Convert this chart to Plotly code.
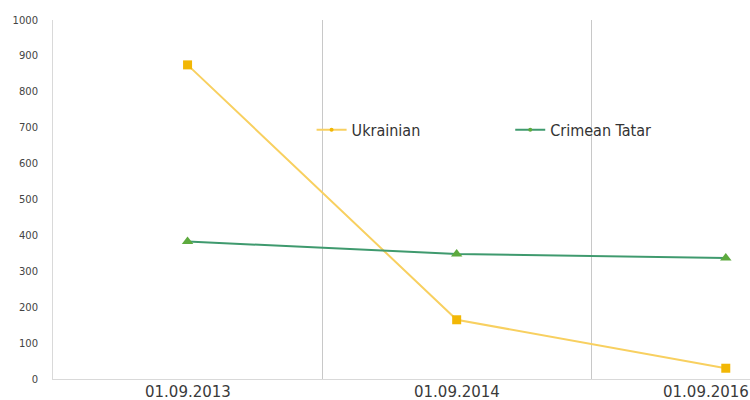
import plotly.graph_objects as go

dates = ["01.09.2013", "01.09.2014", "01.09.2016"]
ukrainian = [875, 165, 30]
crimean_tatar = [383, 348, 337]
y_ticks = list(range(0, 1001, 100))

series = [
    ("Ukrainian", ukrainian, "#F8D060", "square", 9, "#F2B705", "legend"),
    ("Crimean Tatar", crimean_tatar, "#3F9A6E", "triangle-up", 10, "#5DAA3E", "legend2"),
]

fig = go.Figure()
for name, vals, lc, sym, ms, mc, lg in series:
    fig.add_trace(go.Scatter(
        x=dates, y=vals, name=name, mode="lines+markers",
        line=dict(color=lc, width=2),
        marker=dict(symbol=sym, size=ms, color=mc),
        showlegend=False,
    ))
    # legend-only entry with a small marker, as in the reference
    fig.add_trace(go.Scatter(
        x=[None], y=[None], name=name, mode="lines+markers",
        line=dict(color=lc, width=2),
        marker=dict(symbol="circle", size=4, color=mc),
        legend=lg, showlegend=True, hoverinfo="skip",
    ))

# x category labels (last one kept inside the picture, as in the reference)
label_font = dict(family="DejaVu Sans, sans-serif", size=15, color="#3a3a3a")
for i, d in enumerate(dates):
    last = i == len(dates) - 1
    fig.add_annotation(
        x=d, xref="x", y=0, yref="paper", text=d, showarrow=False,
        xanchor="right" if last else "center", yanchor="middle",
        xshift=25 if last else 0, yshift=-13, font=label_font,
    )

legend_font = dict(family="DejaVu Sans Condensed, Liberation Sans Narrow, sans-serif",
                   size=16, color="#333333")
fig.update_layout(
    width=750, height=400,
    margin=dict(l=53, r=0, t=20, b=21),
    paper_bgcolor="white", plot_bgcolor="white",
    showlegend=True,
    legend=dict(x=0.371, y=0.694, xanchor="left", yanchor="middle", font=legend_font,
                bgcolor="rgba(0,0,0,0)"),
    legend2=dict(x=0.656, y=0.694, xanchor="left", yanchor="middle", font=legend_font,
                 bgcolor="rgba(0,0,0,0)"),
    xaxis=dict(
        type="category", range=[-0.5, 2.09], tickson="boundaries", automargin=False,
        showgrid=True, gridcolor="#C8C8C8", gridwidth=1,
        showline=True, linecolor="#D9D9D9", ticks="", showticklabels=False,
    ),
    yaxis=dict(
        range=[0, 1000], tickvals=y_ticks, showgrid=False, zeroline=False, automargin=False,
        showline=True, linecolor="#D9D9D9", ticks="", ticklabelstandoff=12,
        tickfont=dict(family="DejaVu Sans, sans-serif", size=10, color="#444444"),
    ),
)
fig.write_html("out.html")
